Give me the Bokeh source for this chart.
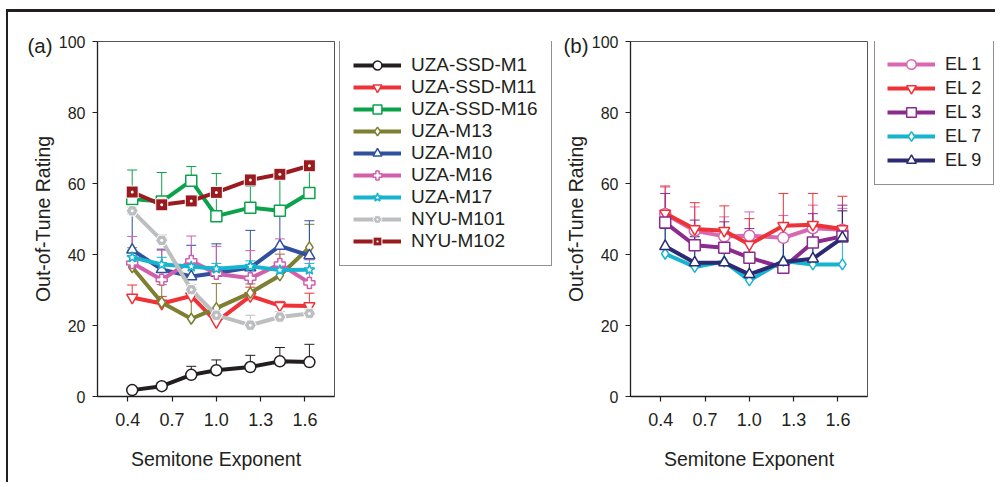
from bokeh.plotting import figure
from bokeh.models import (Range1d, FixedTicker, Legend, LegendItem, Whisker, TeeHead,
                          ColumnDataSource, NumeralTickFormatter)
from bokeh.layouts import row
from bokeh.embed import file_html
from bokeh.resources import INLINE

FONT = "Liberation Sans"
INK = "#231f20"

# ---------------- data ----------------
exponents = [0.43, 0.63, 0.83, 1.0, 1.23, 1.43, 1.63]
x_ticks = [0.4, 0.7, 1.0, 1.3, 1.6]
y_ticks = [0, 20, 40, 60, 80, 100]

a_names = ["UZA-SSD-M1", "UZA-SSD-M11", "UZA-SSD-M16", "UZA-M13", "UZA-M10",
           "UZA-M16", "UZA-M17", "NYU-M101", "NYU-M102"]
a_uza_ssd_m1 = [1.8, 2.9, 6.1, 7.4, 8.3, 9.9, 9.7]
a_uza_ssd_m11 = [27.9, 26.2, 28.3, 21.0, 28.3, 25.6, 25.5]
a_uza_ssd_m16 = [55.6, 54.9, 60.8, 50.8, 53.2, 52.3, 57.3]
a_uza_m13 = [36.4, 26.5, 21.9, 24.9, 29.2, 34.1, 42.0]
a_uza_m10 = [41.3, 35.8, 33.8, 34.8, 36.3, 42.4, 39.7]
a_uza_m16 = [37.6, 32.9, 38.2, 34.6, 33.3, 37.3, 32.0]
a_uza_m17 = [39.2, 37.2, 36.6, 36.0, 36.7, 35.6, 35.7]
a_nyu_m101 = [52.3, 44.0, 30.1, 22.9, 20.1, 22.4, 23.4]
a_nyu_m102 = [57.6, 54.0, 55.1, 57.5, 61.0, 62.6, 65.0]

a_err_uza_ssd_m1 = [0.6, 1.0, 2.4, 2.9, 3.3, 3.9, 5.0]
a_err_uza_ssd_m11 = [3.5, 2.0, 2.5, 1.5, 2.5, 1.2, 3.6]
a_err_uza_ssd_m16 = [8.2, 8.2, 4.0, 12.0, 6.0, 10.3, 7.2]
a_err_uza_m13 = [5.5, 5.0, 8.0, 6.9, 2.5, 6.0, 6.5]
a_err_uza_m10 = [10.2, 5.7, 8.8, 8.2, 10.5, 9.1, 9.8]
a_err_uza_m16 = [7.5, 8.3, 7.0, 7.7, 7.8, 7.1, 6.5]
a_err_uza_m17 = [2.0, 2.0, 1.5, 1.5, 1.5, 1.5, 1.8]
a_err_nyu_m101 = [1.0, 1.5, 1.5, 1.2, 2.8, 1.5, 1.2]
a_err_nyu_m102 = [1.5, 1.2, 1.2, 1.2, 1.2, 1.3, 1.5]

b_names = ["EL 1", "EL 2", "EL 3", "EL 7", "EL 9"]
b_el1 = [51.4, 46.7, 45.1, 45.3, 44.7, 47.4, 47.0]
b_el2 = [51.6, 47.2, 46.7, 42.8, 48.1, 48.4, 47.2]
b_el3 = [49.0, 42.6, 41.9, 39.1, 36.3, 43.4, 45.1]
b_el7 = [40.2, 36.5, 38.0, 32.7, 38.2, 37.2, 37.2]
b_el9 = [42.3, 37.7, 37.7, 34.4, 37.9, 38.8, 44.7]

b_err_el1 = [7.6, 6.7, 5.5, 6.7, 6.3, 6.5, 6.0]
b_err_el2 = [7.7, 7.4, 7.0, 7.3, 9.1, 8.8, 9.2]
b_err_el3 = [8.2, 7.1, 7.3, 8.2, 8.7, 8.1, 8.8]
b_err_el7 = [7.5, 6.0, 6.5, 7.0, 5.5, 6.5, 7.5]
b_err_el9 = [5.0, 7.3, 8.7, 9.5, 7.5, 7.6, 7.6]

# ---------------- styles ----------------
a_series = [a_uza_ssd_m1, a_uza_ssd_m11, a_uza_ssd_m16, a_uza_m13, a_uza_m10,
            a_uza_m16, a_uza_m17, a_nyu_m101, a_nyu_m102]
a_errs = [a_err_uza_ssd_m1, a_err_uza_ssd_m11, a_err_uza_ssd_m16, a_err_uza_m13,
          a_err_uza_m10, a_err_uza_m16, a_err_uza_m17, a_err_nyu_m101, a_err_nyu_m102]
a_colors = ["#231f20", "#ee3338", "#0ba24c", "#7d7f31", "#2f4f9f",
            "#d15fac", "#16b4cf", "#bcbec0", "#9a1b1f"]
# (marker, filled-with-series-colour)
a_markers = [("circle", False), ("inverted_triangle", False), ("square", False),
             ("diamond", False), ("triangle", False), ("plus", False),
             ("star", False), ("hex_dot", True), ("square_dot", True)]

b_series = [b_el1, b_el2, b_el3, b_el7, b_el9]
b_errs = [b_err_el1, b_err_el2, b_err_el3, b_err_el7, b_err_el9]
b_colors = ["#d967b1", "#ee3338", "#8c2a8e", "#16b4cf", "#2b2a72"]
b_markers = [("circle", False), ("inverted_triangle", False), ("square", False),
             ("diamond", False), ("triangle", False)]

FRAME_W, FRAME_H = 237, 355
TOP, BOTTOM = 29, 86
HEIGHT = TOP + FRAME_H + BOTTOM


def draw_series(p, src, c, mk, filled):
    lr = p.line("x", "y", source=src, line_width=4, line_color=c)
    if filled:
        sr = p.scatter("x", "y", source=src, marker=mk, size=12,
                       fill_color=c, line_color="white", line_width=1)
    else:
        sr = p.scatter("x", "y", source=src, marker=mk, size=11,
                       fill_color="white", line_color=c, line_width=1.5)
    return [lr, sr]


def make_panel(letter, letter_offset, series, errs, colors, markers, min_left):
    p = figure(width=min_left + FRAME_W + 2, height=HEIGHT,
               min_border_left=min_left, min_border_right=2,
               min_border_top=TOP, min_border_bottom=BOTTOM,
               x_range=Range1d(0.195, 1.8), y_range=Range1d(0, 100),
               output_backend="svg", toolbar_location=None,
               background_fill_color="white", border_fill_color="white")
    p.grid.visible = False
    p.outline_line_color = "#555555"
    p.outline_line_width = 1

    p.title.text = letter
    p.title.align = "left"
    p.title.offset = letter_offset
    p.title.standoff = -30
    p.title.vertical_align = "bottom"
    p.title.text_font = FONT
    p.title.text_font_size = "20.5px"
    p.title.text_font_style = "normal"
    p.title.text_color = INK

    p.xaxis.ticker = FixedTicker(ticks=x_ticks)
    p.xaxis.formatter = NumeralTickFormatter(format="0.0")
    p.yaxis.ticker = FixedTicker(ticks=y_ticks)
    for ax in (p.xaxis[0], p.yaxis[0]):
        ax.axis_line_color = INK
        ax.axis_line_width = 1.3
        ax.major_tick_line_color = INK
        ax.major_tick_line_width = 1.2
        ax.major_tick_out = 5
        ax.major_tick_in = 0
        ax.minor_tick_out = 0
        ax.minor_tick_in = 0
        ax.major_label_text_font = FONT
        ax.major_label_text_color = INK
        ax.axis_label_text_font = FONT
        ax.axis_label_text_font_style = "normal"
        ax.axis_label_text_font_size = "19.5px"
        ax.axis_label_text_color = INK
    p.xaxis.major_label_text_font_size = "18px"
    p.yaxis.major_label_text_font_size = "16px"
    p.xaxis.major_label_standoff = 11
    p.yaxis.major_label_standoff = 7
    p.xaxis.axis_label = "Semitone Exponent"
    p.yaxis.axis_label = "Out-of-Tune Rating"
    p.xaxis.axis_label_standoff = 19
    p.yaxis.axis_label_standoff = 2

    for ys, er, c, (mk, filled) in zip(series, errs, colors, markers):
        upper = [y + e for y, e in zip(ys, er)]
        src = ColumnDataSource(dict(x=exponents, y=ys, upper=upper))
        wh = Whisker(base="x", lower="y", upper="upper", source=src, dimension="height",
                     line_color=c, line_width=1,
                     upper_head=TeeHead(size=10, line_color=c, line_width=1),
                     lower_head=None, level="underlay")
        p.add_layout(wh)
        draw_series(p, src, c, mk, filled)
    return p


def make_legend_fig(width, names, series, colors, markers, loc, font, label_h, pad):
    # legend-only canvas; its series sit outside the visible ranges
    q = figure(width=width, height=HEIGHT, title=None,
               x_range=Range1d(10, 11), y_range=Range1d(200, 300),
               x_axis_location=None, y_axis_location=None,
               min_border=0, min_border_left=0, min_border_right=0,
               min_border_top=0, min_border_bottom=0,
               output_backend="svg", toolbar_location=None,
               background_fill_color="white", border_fill_color="white")
    q.grid.visible = False
    q.outline_line_color = None
    items = []
    for name, ys, c, (mk, filled) in zip(names, series, colors, markers):
        src = ColumnDataSource(dict(x=exponents, y=ys))
        items.append(LegendItem(label=name, renderers=draw_series(q, src, c, mk, filled)))
    leg = Legend(items=items, location=loc,
                 label_text_font=FONT, label_text_font_size=font,
                 label_text_color=INK,
                 label_height=label_h, glyph_height=label_h, glyph_width=48,
                 label_standoff=10, spacing=0, padding=pad, margin=0,
                 border_line_color=INK, border_line_width=1,
                 background_fill_color="white", background_fill_alpha=1)
    q.add_layout(leg)
    return q


# legend frames are aligned with the panel frames by the row layout;
# locations are measured from that frame's bottom-left corner
pa = make_panel("(a)", -70, a_series, a_errs, a_colors, a_markers, min_left=89)
la = make_legend_fig(224, a_names, a_series, a_colors, a_markers,
                     loc=(3, 130), font="19px", label_h=22, pad=13)
pb = make_panel("(b)", -67, b_series, b_errs, b_colors, b_markers, min_left=70)
lb = make_legend_fig(126, b_names, b_series, b_colors, b_markers,
                     loc=(5, 211), font="18px", label_h=24, pad=12)

layout = row(pa, la, pb, lb, margin=(9, 0, 0, 6),
             styles={"border-top": "3px solid #231f20",
                     "border-left": "2px solid #231f20"})

open("out.html", "w").write(file_html(layout, INLINE))
